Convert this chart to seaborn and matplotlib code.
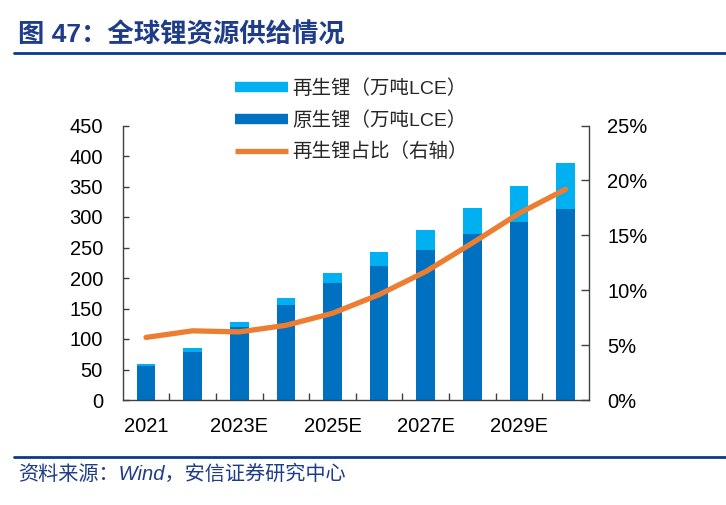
import numpy as np
import pandas as pd
import matplotlib
matplotlib.use("Agg")
import matplotlib.pyplot as plt
import seaborn as sns
from matplotlib.lines import Line2D
from matplotlib.ticker import FixedLocator, FuncFormatter

# ---- data ----
years = ['2021', '2022', '2023E', '2024E', '2025E', '2026E', '2027E', '2028E', '2029E', '2030E']
primary = [55, 79, 119, 156, 191, 219, 246, 272, 292, 313]      # 原生锂（万吨LCE）
recycled = [4, 6, 9, 11, 17, 24, 33, 43, 59, 75]                 # 再生锂（万吨LCE）
share = [5.7, 6.3, 6.2, 6.8, 7.9, 9.6, 11.7, 14.3, 17.0, 19.2]   # 再生锂占比（%）
xtick_labels = ['2021', '', '2023E', '', '2025E', '', '2027E', '', '2029E', '']
left_ticks = [0, 50, 100, 150, 200, 250, 300, 350, 400, 450]
right_ticks = [0, 5, 10, 15, 20, 25]

C_REC = '#00B0F0'
C_PRI = '#0070C0'
C_LINE = '#ED7D31'
NAVY = '#1F3C88'

sns.set_theme(style='white')
plt.rcParams['font.family'] = ['Liberation Sans', 'Noto Sans CJK SC']
plt.rcParams['axes.unicode_minus'] = False

df = pd.DataFrame({'year': years, 'primary': primary, 'recycled': recycled, 'share': share})
df['total'] = df['primary'] + df['recycled']

fig = plt.figure(figsize=(7.26, 5.05), dpi=100)
ax = fig.add_axes([122.7 / 726, 1 - 400 / 505, (589 - 122.7) / 726, (400 - 125.5) / 505])

sns.barplot(data=df, x='year', y='total', color=C_REC, width=0.4, saturation=1,
            linewidth=0, ax=ax)
sns.barplot(data=df, x='year', y='primary', color=C_PRI, width=0.4, saturation=1,
            linewidth=0, ax=ax)
ax.set_xlim(-0.5, len(years) - 0.5)
ax.set_ylim(0, 450)
ax.set_xlabel('')
ax.set_ylabel('')

ax2 = ax.twinx()
sns.lineplot(x=np.arange(len(years)), y=df['share'], color=C_LINE, lw=3.8, ax=ax2)
ax2.set_ylim(0, 25)
ax2.set_ylabel('')
ax2.set_xlim(-0.5, len(years) - 0.5)

spine_c = '#404040'
for a in (ax, ax2):
    for s in a.spines.values():
        s.set_color(spine_c)
        s.set_linewidth(1.0)
    a.spines['top'].set_visible(False)
ax.spines['right'].set_visible(False)
ax2.spines['left'].set_visible(False)
ax2.spines['bottom'].set_visible(False)

FS = 14.5
ax.set_yticks(left_ticks)
ax.set_yticklabels([str(v) for v in left_ticks])
ax.tick_params(axis='y', which='major', direction='in', length=4, width=1, color=spine_c,
               labelsize=FS, pad=14.2, left=True, labelcolor='black')
ax.set_xticks(range(len(years)))
ax.set_xticklabels(xtick_labels)
ax.tick_params(axis='x', which='major', length=0, labelsize=FS, pad=12.5, labelcolor='black')
ax.xaxis.set_minor_locator(FixedLocator(np.arange(0.5, len(years) - 1, 1.0)))
ax.tick_params(axis='x', which='minor', direction='in', length=5, width=1, color=spine_c, bottom=True)

ax2.set_yticks(right_ticks)
ax2.yaxis.set_major_formatter(FuncFormatter(lambda v, p: f'{int(v)}%'))
ax2.tick_params(axis='y', which='major', direction='in', length=6, width=1, color=spine_c,
                labelsize=FS, pad=13.2, right=True, labelcolor='black')
ax.grid(False)
ax2.grid(False)

# legend
handles = [
    Line2D([0], [0], color=C_REC, lw=7.5, solid_capstyle='butt'),
    Line2D([0], [0], color=C_PRI, lw=7.5, solid_capstyle='butt'),
    Line2D([0], [0], color=C_LINE, lw=3.8, solid_capstyle='butt'),
]
labels = ['再生锂（万吨LCE）', '原生锂（万吨LCE）', '再生锂占比（右轴）']
if ax2.get_legend() is not None:
    ax2.get_legend().remove()
fig.legend(handles, labels, loc='upper left', bbox_to_anchor=(235 / 726, 1 - 79 / 505),
           frameon=False, fontsize=14, handlelength=2.7, handletextpad=0.25,
           labelspacing=0.68, borderpad=0, borderaxespad=0)

# title & footer
fig.text(18 / 726, 1 - 35 / 505, '图 47：全球锂资源供给情况', fontsize=19, fontweight='bold',
         color=NAVY, va='center', ha='left')
fig.add_artist(Line2D([14 / 726, 1.0], [1 - 53 / 505, 1 - 53 / 505], color='#0B3A8C', lw=2))
fig.add_artist(Line2D([14 / 726, 1.0], [1 - 457 / 505, 1 - 457 / 505], color='#0B3A8C', lw=2))
fig.text(18 / 726, 1 - 474 / 505, '资料来源：Wind，安信证券研究中心', fontsize=14.5, style='italic',
         color=NAVY, va='center', ha='left')

fig.savefig('out.png', dpi=100)
